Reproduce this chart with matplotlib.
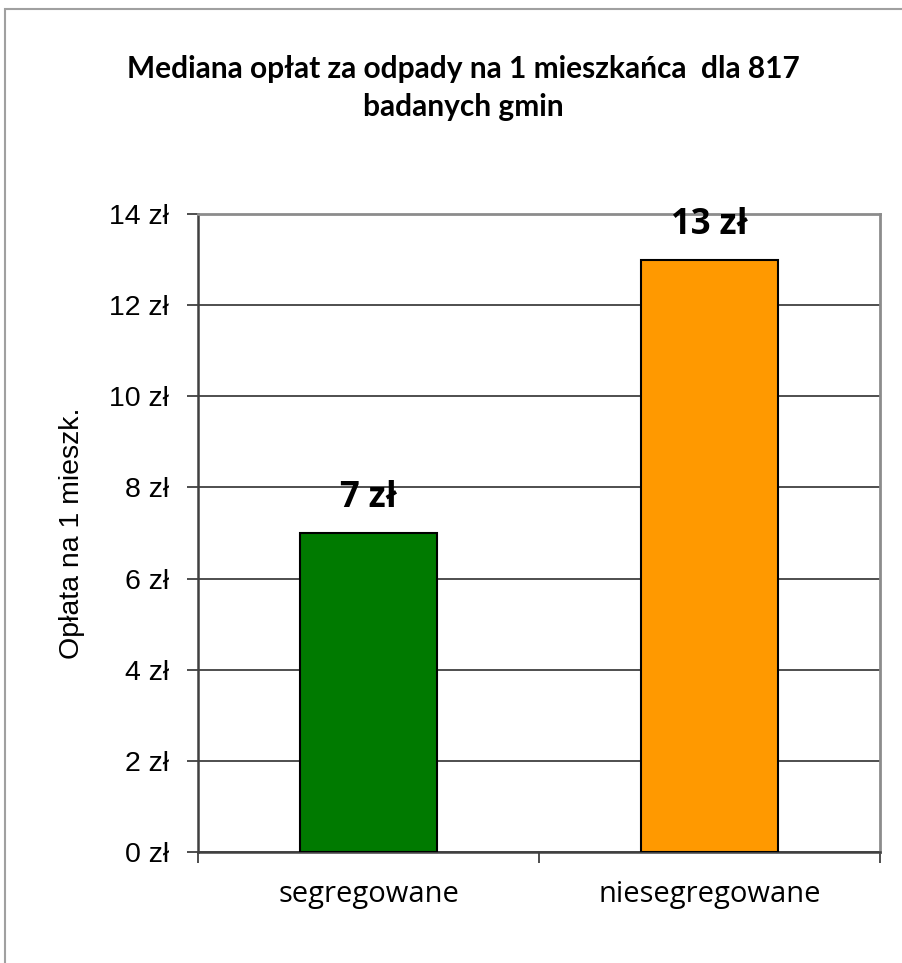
import matplotlib
matplotlib.use("Agg")
import matplotlib.pyplot as plt
from matplotlib.patches import Rectangle

categories = ["segregowane", "niesegregowane"]
values = [7, 13]
bar_labels = ["7 zł", "13 zł"]
colors = ["#007A00", "#FF9900"]
yticks = [0, 2, 4, 6, 8, 10, 12, 14]
ytick_labels = [f"{v} zł" for v in yticks]
title = "Mediana opłat za odpady na 1 mieszkańca  dla 817\nbadanych gmin"
ylabel = "Opłata na 1 mieszk."

W, H = 902, 963
fig = plt.figure(figsize=(W / 100, H / 100), dpi=100)
fig.patch.set_facecolor("white")

# outer frame
fig.patches.append(Rectangle((5 / W, -0.01), 1.1, 1 - 9 / H + 0.01, transform=fig.transFigure,
                             fill=False, edgecolor="#A0A0A0", linewidth=1.5))

ax = fig.add_axes([198 / W, 1 - 852 / H, (880 - 198) / W, (852 - 214) / H])
x = range(len(categories))
ax.bar(x, values, width=0.4, color=colors, edgecolor="black", linewidth=1.5, zorder=3)
ax.set_xlim(-0.5, 1.5)
ax.set_ylim(0, 14)

ax.set_yticks(yticks)
ax.set_yticklabels(ytick_labels, family="Liberation Sans", fontsize=20.5)
ax.yaxis.grid(True, color="#404040", linewidth=1.3, zorder=0)
ax.set_axisbelow(True)

ax.set_xticks([-0.5, 0.5, 1.5])
ax.set_xticklabels([])
ax.set_xticks([0, 1], minor=True)
ax.set_xticklabels(categories, minor=True, family="Open Sans", fontsize=21)
ax.tick_params(axis="x", which="minor", length=0, pad=20)
ax.tick_params(axis="x", which="major", length=8, width=1.3, color="#404040", direction="out")
ax.tick_params(axis="y", length=8, width=1.3, color="#404040", direction="out", pad=13)

for s in ["left", "bottom"]:
    ax.spines[s].set_color("#404040")
    ax.spines[s].set_linewidth(1.8)
for s in ["top", "right"]:
    ax.spines[s].set_color("#8C8C8C")
    ax.spines[s].set_linewidth(2)

for xi, v, lab in zip(x, values, bar_labels):
    ax.annotate(lab, (xi, v), xytext=(0, 25), textcoords="offset points",
                ha="center", va="center", fontsize=25, fontweight="bold", family="Open Sans")

ax.set_ylabel(ylabel, family="Liberation Sans", fontsize=20.5, labelpad=17)

fig.text(463 / W, 1 - 88 / H, title, ha="center", va="center", fontsize=21.5,
         fontweight="bold", family="Lato", linespacing=1.4)

fig.savefig("out.png", dpi=100)
